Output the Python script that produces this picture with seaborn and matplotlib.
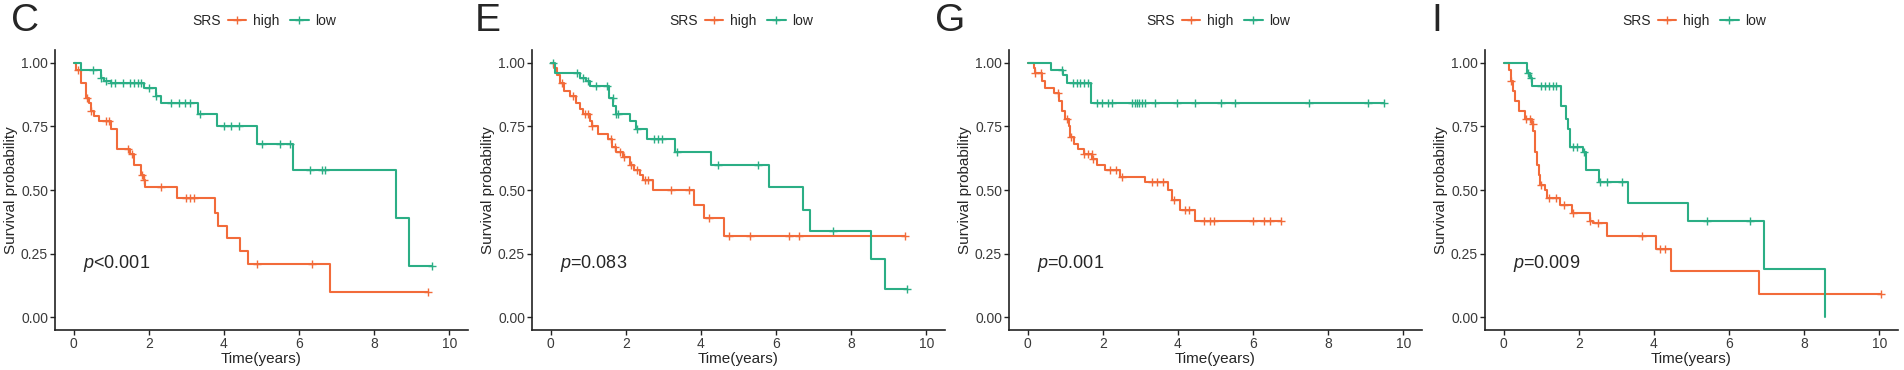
import numpy as np
import pandas as pd
import matplotlib
matplotlib.use("Agg")
import matplotlib.pyplot as plt
import seaborn as sns
from matplotlib.lines import Line2D

# step curves: (time, survival after drop)
c_high_t = [0, 0.05, 0.19, 0.32, 0.41, 0.45, 0.54, 0.67, 0.98, 1.16, 1.51, 1.60, 1.78, 1.87, 1.91, 2.75, 3.77, 3.85, 4.08, 4.43, 4.65, 6.82, 9.43]
c_high_s = [1.0, 0.97, 0.92, 0.86, 0.84, 0.81, 0.79, 0.77, 0.74, 0.66, 0.64, 0.60, 0.56, 0.54, 0.51, 0.47, 0.41, 0.36, 0.31, 0.26, 0.21, 0.10, 0.10]
c_high_cens = [0.12, 0.35, 0.47, 0.85, 0.95, 1.45, 1.55, 1.82, 1.88, 2.31, 3.0, 3.1, 3.2, 4.87, 6.35, 9.43]
c_low_t = [0, 0.19, 0.72, 0.80, 0.98, 1.87, 2.18, 2.31, 3.32, 3.81, 4.89, 5.83, 8.57, 8.92, 9.53]
c_low_s = [1.0, 0.97, 0.94, 0.93, 0.92, 0.90, 0.87, 0.84, 0.80, 0.75, 0.68, 0.58, 0.39, 0.20, 0.20]
c_low_cens = [0.5, 0.72, 0.85, 1.0, 1.1, 1.3, 1.5, 1.6, 1.7, 1.8, 2.0, 2.2, 2.6, 2.8, 2.95, 3.1, 3.35, 4.0, 4.2, 4.4, 5.0, 5.5, 5.75, 6.3, 6.6, 6.7, 9.53]

e_high_t = [0, 0.09, 0.16, 0.25, 0.35, 0.51, 0.67, 0.78, 0.86, 1.04, 1.09, 1.26, 1.53, 1.64, 1.75, 1.92, 2.10, 2.23, 2.37, 2.45, 2.72, 3.82, 4.07, 4.62, 9.43]
e_high_s = [1.0, 0.98, 0.95, 0.92, 0.89, 0.87, 0.84, 0.82, 0.80, 0.77, 0.75, 0.72, 0.70, 0.67, 0.65, 0.63, 0.60, 0.58, 0.56, 0.54, 0.50, 0.44, 0.39, 0.32, 0.32]
e_high_cens = [0.3, 0.6, 0.9, 1.0, 1.1, 1.6, 1.7, 1.85, 1.95, 2.15, 2.3, 2.5, 2.6, 3.2, 3.69, 4.22, 4.75, 5.3, 6.35, 6.62, 9.43]
e_low_t = [0, 0.12, 0.78, 0.95, 1.04, 1.55, 1.66, 1.73, 2.12, 2.28, 2.56, 3.32, 4.26, 5.81, 6.72, 6.91, 8.53, 8.91, 9.49]
e_low_s = [1.0, 0.96, 0.94, 0.93, 0.91, 0.86, 0.83, 0.80, 0.77, 0.74, 0.70, 0.65, 0.60, 0.51, 0.42, 0.34, 0.23, 0.11, 0.11]
e_low_cens = [0.05, 0.69, 0.85, 1.0, 1.2, 1.5, 1.65, 1.75, 1.8, 2.3, 2.75, 2.85, 2.95, 3.35, 4.45, 5.52, 7.51, 9.49]

g_high_t = [0, 0.16, 0.2, 0.38, 0.47, 0.69, 0.82, 0.91, 1.0, 1.09, 1.13, 1.22, 1.35, 1.49, 1.71, 1.84, 2.06, 2.46, 3.12, 3.74, 3.83, 4.05, 4.45, 6.75]
g_high_s = [1.0, 0.98, 0.96, 0.93, 0.90, 0.88, 0.85, 0.81, 0.78, 0.75, 0.71, 0.68, 0.66, 0.64, 0.62, 0.60, 0.58, 0.55, 0.53, 0.50, 0.46, 0.42, 0.38, 0.38]
g_high_cens = [0.2, 0.35, 0.8, 1.05, 1.15, 1.5, 1.6, 1.7, 1.75, 2.2, 2.35, 2.5, 3.3, 3.45, 3.6, 3.9, 4.2, 4.3, 4.7, 4.85, 4.95, 6.0, 6.3, 6.45, 6.75]
g_low_t = [0, 0.62, 0.95, 1.05, 1.69, 9.5]
g_low_s = [1.0, 0.97, 0.95, 0.92, 0.84, 0.84]
g_low_cens = [0.9, 1.2, 1.3, 1.4, 1.5, 1.6, 1.85, 1.97, 2.15, 2.24, 2.77, 2.85, 2.9, 2.95, 3.05, 3.12, 3.39, 3.98, 4.45, 5.14, 5.53, 7.5, 9.05, 9.5]

i_high_t = [0, 0.15, 0.2, 0.24, 0.29, 0.40, 0.57, 0.75, 0.79, 0.84, 0.88, 0.93, 0.97, 1.10, 1.15, 1.50, 1.81, 2.29, 2.38, 2.75, 4.05, 4.45, 6.81, 10.04]
i_high_s = [1.0, 0.97, 0.93, 0.89, 0.85, 0.81, 0.78, 0.76, 0.73, 0.65, 0.60, 0.56, 0.52, 0.50, 0.47, 0.44, 0.41, 0.38, 0.37, 0.32, 0.27, 0.18, 0.09, 0.09]
i_high_cens = [0.2, 0.6, 0.7, 0.78, 1.0, 1.2, 1.4, 1.6, 1.85, 2.3, 2.5, 3.67, 4.15, 4.3, 10.04]
i_low_t = [0, 0.62, 0.69, 0.75, 1.52, 1.67, 1.72, 1.76, 2.11, 2.18, 2.2, 2.53, 3.32, 4.91, 6.94, 8.55]
i_low_s = [1.0, 0.96, 0.94, 0.91, 0.83, 0.78, 0.74, 0.67, 0.65, 0.62, 0.58, 0.53, 0.45, 0.38, 0.19, 0.0]
i_low_cens = [0.65, 0.72, 1.0, 1.1, 1.2, 1.3, 1.4, 1.85, 1.95, 2.15, 2.55, 2.75, 3.15, 5.42, 6.56]

panel_labels = ["C", "E", "G", "I"]
p_texts = ["<0.001", "=0.083", "=0.001", "=0.009"]

high_color = "#F26B3A"
low_color = "#2BAE85"

sns.set_style("ticks")
plt.rcParams["font.family"] = ["Liberation Sans", "DejaVu Sans"]
plt.rcParams["mathtext.fontset"] = "custom"
plt.rcParams["mathtext.it"] = "Liberation Sans:italic"
plt.rcParams["mathtext.rm"] = "Liberation Sans"

panels = [
    (c_high_t, c_high_s, c_high_cens, c_low_t, c_low_s, c_low_cens),
    (e_high_t, e_high_s, e_high_cens, e_low_t, e_low_s, e_low_cens),
    (g_high_t, g_high_s, g_high_cens, g_low_t, g_low_s, g_low_cens),
    (i_high_t, i_high_s, i_high_cens, i_low_t, i_low_s, i_low_cens),
]


def surv_at(t, s, times):
    idx = np.searchsorted(t, times, side="right") - 1
    return np.asarray(s)[idx]


W, H = 1904, 370
fig = plt.figure(figsize=(W / 100, H / 100), dpi=100)
ax_lefts = [55, 532, 1009, 1485]
label_x = [11, 475, 935, 1431]
ax_w = 413
ax_bottom, ax_top = 40, 320  # px from bottom

for k, (ht, hs, hc, lt, ls, lc) in enumerate(panels):
    ax = fig.add_axes([ax_lefts[k] / W, ax_bottom / H, ax_w / W, (ax_top - ax_bottom) / H])
    for t, s, cens, col in [(ht, hs, hc, high_color), (lt, ls, lc, low_color)]:
        df = pd.DataFrame({"time": t, "surv": s})
        sns.lineplot(data=df, x="time", y="surv", drawstyle="steps-post", color=col,
                     lw=1.5, estimator=None, sort=False, ax=ax)
        cdf = pd.DataFrame({"time": cens, "surv": surv_at(t, s, cens)})
        sns.scatterplot(data=cdf, x="time", y="surv", marker="+", color=col,
                        s=40, linewidth=1.0, ax=ax)
    ax.set_xlim(-0.5, 10.5)
    ax.set_ylim(-0.05, 1.05)
    ax.set_xticks([0, 2, 4, 6, 8, 10])
    ax.set_yticks([0, 0.25, 0.5, 0.75, 1.0])
    ax.set_yticklabels(["0.00", "0.25", "0.50", "0.75", "1.00"])
    ax.tick_params(labelsize=10, length=3.5, width=1, pad=1.5, colors="#222222", labelcolor="#3a3a3a")
    ax.set_xlabel("Time(years)", fontsize=11, labelpad=1)
    ax.set_ylabel("Survival probability", fontsize=11, labelpad=2)
    for sp in ["left", "bottom"]:
        ax.spines[sp].set_linewidth(1.2)
        ax.spines[sp].set_color("#222222")
    sns.despine(ax=ax)
    ax.text(0.25, 0.21, r"$p$" + p_texts[k], fontsize=13, va="center", ha="left")

    # legend on top
    handles = [Line2D([], [], color=high_color, lw=1.5, marker="+", ms=6),
               Line2D([], [], color=low_color, lw=1.5, marker="+", ms=6)]
    ax.legend(handles, ["high", "low"], loc="center", bbox_to_anchor=(0.55, 1.105), ncol=2,
              frameon=False, fontsize=10, handlelength=1.3, handletextpad=0.5,
              columnspacing=0.8, borderpad=0)
    ax.text(0.368, 1.105, "SRS", transform=ax.transAxes, fontsize=10, ha="center", va="center")
    fig.text(label_x[k] / W, 1 - 21 / H, panel_labels[k], fontsize=28, ha="left", va="center")

fig.savefig("out.png", dpi=100)
